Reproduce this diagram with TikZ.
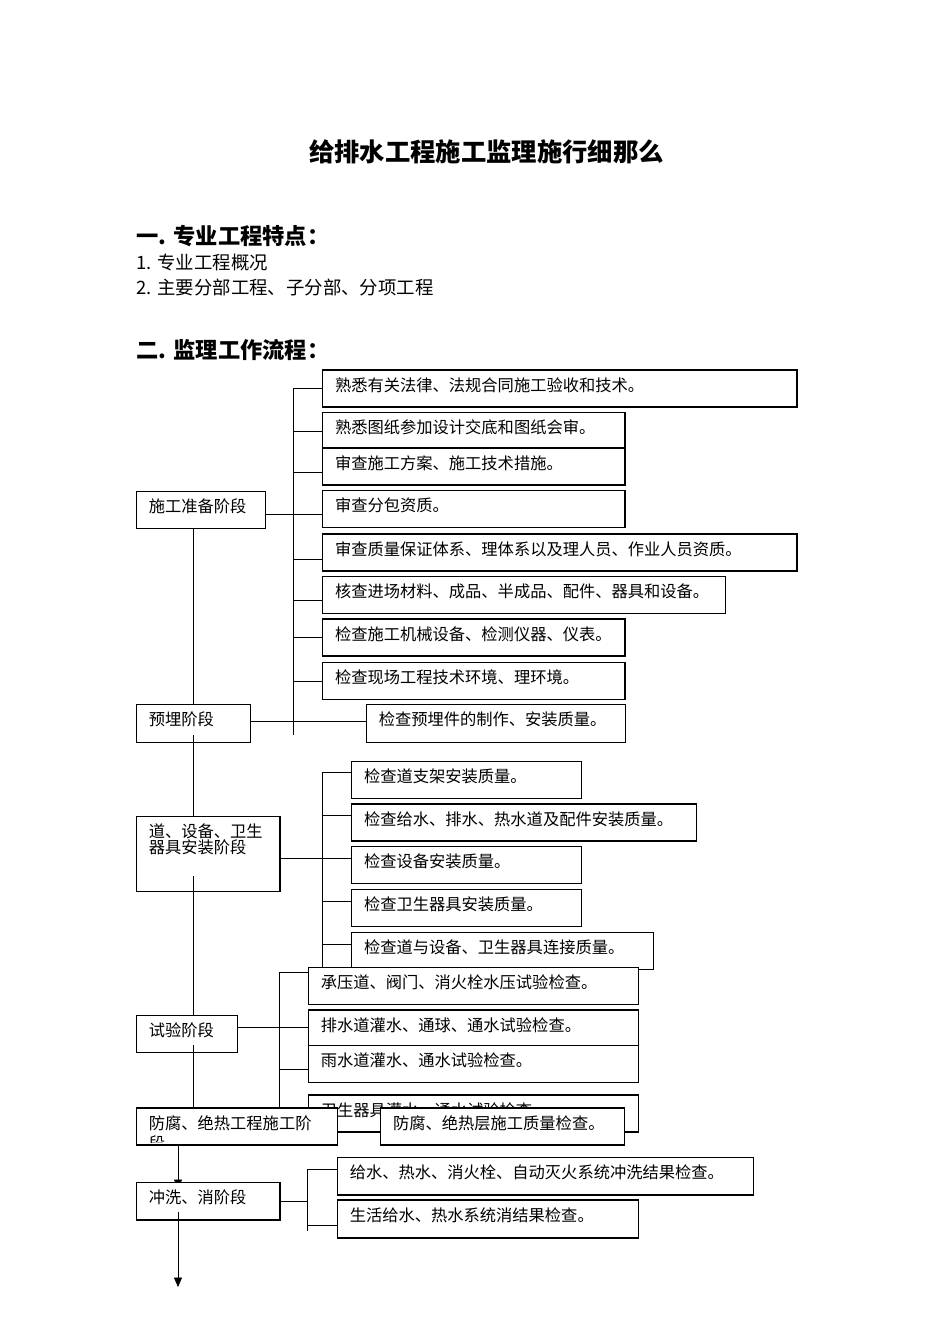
\documentclass[tikz,border=0pt]{standalone}
\usepackage{fontspec}
\newfontfamily\cjk{Noto Sans CJK SC}
\usetikzlibrary{arrows.meta}
\pgfdeclarelayer{background}
\pgfsetlayers{background,main}

\begin{document}
\begin{tikzpicture}[x=0.75pt, y=-0.75pt, line width=0.9pt,
    stepbox/.style={draw, fill=white, anchor=north west, align=left,
        inner xsep=9.5pt, inner ysep=3pt, text height=13pt, text depth=8.75pt,
        font=\cjk\fontsize{12.2pt}{12pt}\selectfont},
    heading/.style={anchor=west, inner sep=0pt, font=\cjk\bfseries\fontsize{16.7pt}{18pt}\selectfont},
    listitem/.style={anchor=west, inner sep=0pt, font=\cjk\fontsize{13.8pt}{16pt}\selectfont},
    flow/.style={-{Triangle[width=6pt,length=7pt]}}]
    \useasboundingbox (0,0) rectangle (950,1344);

    % title and headings
    \node[font=\cjk\bfseries\fontsize{19pt}{22pt}\selectfont] (title) at (486.5,151.5) {给排水工程施工监理施行细那么};
    \node[heading] (part1) at (136,236) {一. 专业工程特点：};
    \node[listitem] (item1) at (136,263) {1. 专业工程概况};
    \node[listitem] (item2) at (136,287) {2. 主要分部工程、子分部、分项工程};
    \node[heading] (part2) at (136,350) {二. 监理工作流程：};

    % stages
    \node[stepbox, text width=78pt] (prep) at (135.6,491) {施工准备阶段};
    \node[stepbox, text width=67pt, text depth=9.7pt] (embed) at (135.6,704) {预埋阶段};
    \node[stepbox, text width=88.8pt, text depth=37.25pt] (install) at (135.6,815.7) {道、设备、卫生\\器具安装阶段};
    \node[stepbox, text width=57pt] (test) at (135.6,1015) {试验阶段};

    % checks of the preparation stage
    \node[stepbox, text width=336.9pt] (A1) at (321.8,369.3) {熟悉有关法律、法规合同施工验收和技术。};
    \node[stepbox, text width=208pt] (A2) at (321.8,411.7) {熟悉图纸参加设计交底和图纸会审。};
    \node[stepbox, text width=208pt] (A3) at (321.8,447.3) {审查施工方案、施工技术措施。};
    \node[stepbox, text width=208pt] (A4) at (321.8,490) {审查分包资质。};
    \node[stepbox, text width=336.9pt] (A5) at (321.8,533.3) {审查质量保证体系、理体系以及理人员、作业人员资质。};
    \node[stepbox, text width=283.4pt] (A6) at (321.8,576) {核查进场材料、成品、半成品、配件、器具和设备。};
    \node[stepbox, text width=208pt] (A7) at (321.8,618.3) {检查施工机械设备、检测仪器、仪表。};
    \node[stepbox, text width=208pt] (A8) at (321.8,661.7) {检查现场工程技术环境、理环境。};
    \node[stepbox, text width=175.3pt, text depth=9.7pt] (A9) at (365.5,704) {检查预埋件的制作、安装质量。};

    % checks of the installation stage
    \node[stepbox, text width=153.4pt] (B1) at (350.8,760.7) {检查道支架安装质量。};
    \node[stepbox, text width=239.8pt] (B2) at (350.8,803.3) {检查给水、排水、热水道及配件安装质量。};
    \node[stepbox, text width=153.4pt] (B3) at (350.8,846) {检查设备安装质量。};
    \node[stepbox, text width=153.4pt] (B4) at (350.8,888.7) {检查卫生器具安装质量。};
    \node[stepbox, text width=207.4pt] (B5) at (350.8,931.7) {检查道与设备、卫生器具连接质量。};

    % checks of the test stage
    \node[stepbox, text width=228.8pt] (C1) at (307.5,966.7) {承压道、阀门、消火栓水压试验检查。};
    \node[stepbox, text width=228.8pt] (C2) at (307.5,1009.3) {排水道灌水、通球、通水试验检查。};
    \node[stepbox, text width=228.8pt] (C3) at (307.5,1045) {雨水道灌水、通水试验检查。};
    \node[stepbox, text width=228.8pt] (C4) at (307.5,1094.3) {卫生器具灌水、通水试验检查。};

    % anticorrosion stage, lies over the last test check
    \node[stepbox, text width=131.7pt] (anticorr) at (135.6,1107.3) {防腐、绝热工程施工阶};
    \begin{scope}
        \clip (anticorr.north west) rectangle ([yshift=2.5pt]anticorr.south east);
        \node[anchor=west, inner sep=0pt, font=\cjk\fontsize{12.2pt}{12pt}\selectfont] (duan) at (148.3,1143) {段};
    \end{scope}
    \node[stepbox, text width=163.9pt] (D1) at (379.8,1107.3) {防腐、绝热层施工质量检查。};

    % flushing stage
    \node[stepbox, text width=88.8pt, text depth=9.2pt] (flush) at (135.6,1181.7) {冲洗、消阶段};
    \node[stepbox, text width=293.4pt, text depth=9.2pt] (E1) at (336.5,1156.7) {给水、热水、消火栓、自动灭火系统冲洗结果检查。};
    \node[stepbox, text width=207pt, text depth=9.5pt] (E2) at (336.5,1199.3) {生活给水、热水系统消结果检查。};

    \coordinate (spine) at (192.8,0);
    \coordinate (tail) at (178,0);
    \coordinate (busA) at (293.2,387.7);
    \coordinate (busB) at (322.2,772.3);
    \coordinate (busC) at (279.4,972.3);
    \coordinate (busE) at (307.5,1169.3);

    \begin{pgfonlayer}{background}
        % preparation
        \draw (busA) -- (busA |- 0,735);
        \draw (A1.west) -- (A1.west -| busA);
        \draw (A2.west) -- (A2.west -| busA);
        \draw (busA |- 0,472.7) -- (A3.west |- 0,472.7);
        \draw (prep.east |- 0,514.3) -- (A4.west |- 0,514.3);
        \draw (busA |- 0,559) -- (A5.west |- 0,559);
        \draw (busA |- 0,600.7) -- (A6.west |- 0,600.7);
        \draw (A7.west) -- (A7.west -| busA);
        \draw (A8.west) -- (A8.west -| busA);
        \draw (embed.east |- 0,721.7) -- (A9.west |- 0,721.7);
        % installation
        \draw (busB) -- (busB |- 0,966.7);
        \draw (busB |- 0,772.3) -- (B1.west |- 0,772.3);
        \draw (busB |- 0,815.7) -- (B2.west |- 0,815.7);
        \draw (install.east |- 0,858.3) -- (B3.west |- 0,858.3);
        \draw (busB |- 0,901) -- (B4.west |- 0,901);
        \draw (busB |- 0,944) -- (B5.west |- 0,944);
        % test
        \draw (busC) -- (busC |- 0,1112);
        \draw (busC |- 0,972.3) -- (C1.west |- 0,972.3);
        \draw (test.east |- 0,1027.3) -- (C2.west |- 0,1027.3);
        \draw (busC |- 0,1069.3) -- (C3.west |- 0,1069.3);
        \draw (busC |- 0,1112) -- (C4.west |- 0,1112);
        % flushing
        \draw (busE) -- (busE |- 0,1230.7);
        \draw (busE |- 0,1169.3) -- (E1.west |- 0,1169.3);
        \draw (flush.east) -- (flush.east -| busE);
        \draw (busE |- 0,1225) -- (E2.west |- 0,1225);
        % main line
        \draw (prep.south -| spine) -- (embed.north -| spine);
        \draw[flow] (anticorr.south -| tail) -- (tail |- 0,1189);
    \end{pgfonlayer}

    \draw (spine |- 0,735) -- (install.north -| spine);
    \draw (spine |- 0,876) -- (test.north -| spine);
    \draw (spine |- 0,1045) -- (anticorr.north -| spine);
    \draw[flow] (tail |- 0,1211.7) -- (tail |- 0,1287);
\end{tikzpicture}
\end{document}
